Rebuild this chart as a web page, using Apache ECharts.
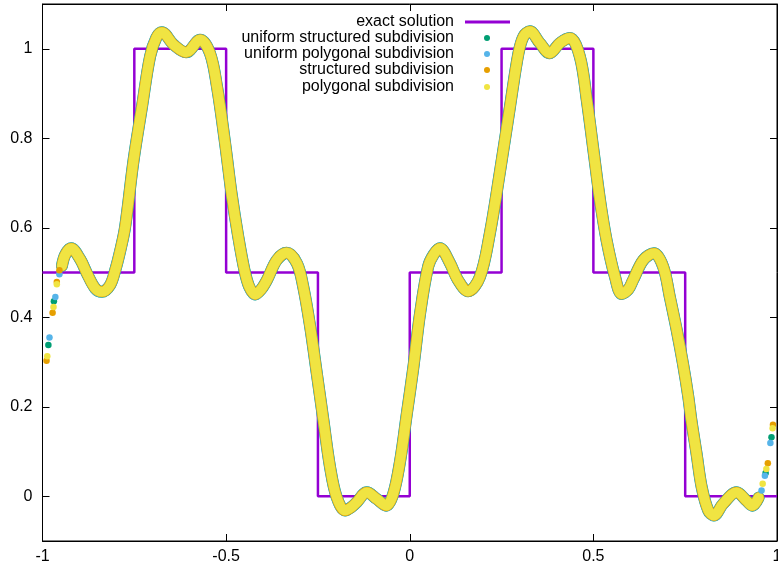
<!DOCTYPE html>
<html><head><meta charset="utf-8">
<script src="https://cdn.jsdelivr.net/npm/echarts@6/dist/echarts.min.js"></script>
<style>html,body{margin:0;padding:0;background:#fff}#c{width:778px;height:566px}</style>
</head><body><div id="c"></div>
<script>
const xTicks = [-1, -0.5, 0, 0.5, 1];
const yTicks = [0, 0.2, 0.4, 0.6, 0.8, 1];
const seriesNames = ['exact solution', 'uniform structured subdivision', 'uniform polygonal subdivision', 'structured subdivision', 'polygonal subdivision'];

const exactX = [-1, -0.75, -0.5, -0.25, 0, 0.25, 0.5, 0.75, 1];
const exactY = [0.5, 1, 0.5, 0, 0.5, 1, 0.5, 0, 0];

// interior band (all four numerical solutions coincide here)
const bandX = [-0.947,-0.938,-0.922,-0.897,-0.879,-0.856,-0.838,-0.816,-0.802,-0.788,-0.775,-0.752,-0.729,-0.707,-0.690,-0.675,-0.643,-0.609,-0.571,-0.544,-0.525,-0.503,-0.485,-0.467,-0.450,-0.437,-0.421,-0.405,-0.389,-0.362,-0.335,-0.307,-0.290,-0.271,-0.253,-0.235,-0.217,-0.199,-0.176,-0.160,-0.144,-0.117,-0.090,-0.064,-0.045,-0.026,-0.008,0.010,0.028,0.050,0.065,0.082,0.109,0.130,0.159,0.191,0.218,0.245,0.273,0.296,0.310,0.327,0.354,0.381,0.409,0.436,0.463,0.482,0.500,0.518,0.536,0.559,0.577,0.595,0.608,0.636,0.665,0.690,0.708,0.727,0.744,0.758,0.767,0.781,0.795,0.813,0.828,0.853,0.890,0.917,0.933,0.950];
const bandY = [0.515,0.540,0.554,0.529,0.498,0.464,0.457,0.472,0.505,0.550,0.602,0.751,0.871,0.983,1.025,1.037,1.009,0.992,1.020,0.990,0.916,0.790,0.675,0.580,0.505,0.468,0.451,0.462,0.483,0.528,0.544,0.520,0.468,0.378,0.274,0.169,0.065,-0.002,-0.032,-0.025,-0.013,0.009,-0.006,-0.021,0.005,0.080,0.184,0.289,0.408,0.513,0.540,0.554,0.522,0.485,0.458,0.490,0.587,0.722,0.871,0.990,1.028,1.039,1.013,0.990,1.013,1.024,0.983,0.886,0.774,0.662,0.572,0.490,0.452,0.462,0.483,0.528,0.543,0.513,0.446,0.371,0.296,0.225,0.169,0.095,0.020,-0.032,-0.043,-0.017,0.009,-0.010,-0.021,-0.003];

// separated points near the boundaries
const greenDotsX = [-0.984, -0.969, 0.969, 0.985];
const greenDotsY = [0.338, 0.436, 0.052, 0.132];
const blueDotsX = [-0.981, -0.965, -0.954, 0.958, 0.967, 0.982];
const blueDotsY = [0.355, 0.445, 0.496, 0.013, 0.046, 0.119];
const orangeDotsX = [-0.989, -0.9725, -0.961, -0.954, 0.975, 0.989];
const orangeDotsY = [0.303, 0.410, 0.479, 0.505, 0.074, 0.160];
const yellowDotsX = [-0.987, -0.970, -0.961, 0.961, 0.971, 0.988];
const yellowDotsY = [0.313, 0.423, 0.474, 0.028, 0.061, 0.152];

const colors = ['#9400d3', '#009e73', '#56b4e9', '#e69f00', '#f0e442'];
const pair = (xs, ys) => xs.map((x, i) => [x, ys[i]]);
const FONT = "'Liberation Sans', Arial, sans-serif";

const dotSets = [[greenDotsX, greenDotsY], [blueDotsX, blueDotsY], [orangeDotsX, orangeDotsY], [yellowDotsX, yellowDotsY]];
const bandWidths = [12, 11.5, 11, 10];

const series = [];
for (let k = 0; k < 4; k++) {
  series.push({
    name: seriesNames[k + 1], type: 'scatter', z: 6 + k,
    data: pair(dotSets[k][0], dotSets[k][1]),
    symbol: 'circle', symbolSize: 6.5,
    itemStyle: { color: colors[k + 1], opacity: 1 },
    emphasis: { disabled: true }
  });
}
series.push({
  name: seriesNames[0], type: 'line', z: 2, step: 'end',
  data: pair(exactX, exactY), symbol: 'none', showSymbol: false,
  lineStyle: { color: colors[0], width: 2.5 }, itemStyle: { color: colors[0] }
});
for (let k = 0; k < 4; k++) {
  series.push({
    name: seriesNames[k + 1], type: 'line', z: 3 + k * 0.1,
    data: pair(bandX, bandY), symbol: 'none', showSymbol: false, smooth: 0.35,
    lineStyle: { color: colors[k + 1], width: bandWidths[k], cap: 'round', join: 'round' },
    itemStyle: { color: colors[k + 1] }
  });
}

const rowTops = [14, 30, 46, 62, 79];
const legends = seriesNames.map((n, i) => {
  const isLine = i === 0;
  return {
    data: [isLine ? { name: n, icon: 'rect', itemStyle: { color: colors[0] } } : { name: n, icon: 'circle' }],
    orient: 'vertical', align: 'right', padding: 0,
    right: isLine ? 268 : 288, top: rowTops[i],
    itemWidth: isLine ? 45 : 6, itemHeight: isLine ? 3 : 6,
    selectedMode: false,
    textStyle: { color: '#000', fontSize: 16, fontFamily: FONT, padding: isLine ? [0, 6, 0, 0] : [0, 25, 0, 0] }
  };
});

const axisCommon = {
  type: 'value', splitLine: { show: false },
  axisLine: { show: true, onZero: false, lineStyle: { color: '#000', width: 1 } },
  axisTick: { show: true, inside: true, length: 7, lineStyle: { color: '#000' } }
};

const chart = echarts.init(document.getElementById('c'), null, { renderer: 'canvas' });
chart.setOption({
  animation: false,
  backgroundColor: '#fff',
  color: colors,
  grid: { left: 42.5, right: 1, top: 4, bottom: 25, show: true, borderColor: '#000', borderWidth: 1, backgroundColor: 'transparent', containLabel: false, outerBoundsMode: 'none' },
  legend: legends,
  xAxis: [
    Object.assign({}, axisCommon, { position: 'bottom', min: -1, max: 1, interval: 0.5,
      axisLabel: { color: '#000', fontSize: 16, fontFamily: FONT, margin: 8, showMaxLabel: true, showMinLabel: true } }),
    Object.assign({}, axisCommon, { position: 'top', min: -1, max: 1, interval: 0.5, axisLabel: { show: false } })
  ],
  yAxis: [
    Object.assign({}, axisCommon, { position: 'left', min: -0.1, max: 1.1,
      axisTick: { show: true, inside: true, length: 7, lineStyle: { color: '#000' }, customValues: yTicks },
      axisLabel: { color: '#000', fontSize: 16, fontFamily: FONT, margin: 10, customValues: yTicks } }),
    Object.assign({}, axisCommon, { position: 'right', min: -0.1, max: 1.1,
      axisTick: { show: true, inside: true, length: 7, lineStyle: { color: '#000' }, customValues: yTicks },
      axisLabel: { show: false } })
  ],
  series: series
});
</script>
</body></html>
